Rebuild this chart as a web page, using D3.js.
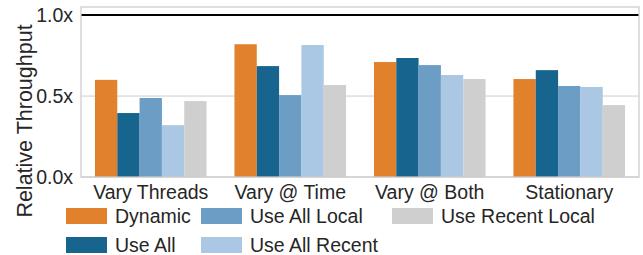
<!DOCTYPE html>
<html>
<head>
<meta charset="utf-8">
<script src="https://cdn.jsdelivr.net/npm/d3@7"></script>
<style>
  body { margin: 0; background: #fff; }
  text { font-family: "Liberation Sans", Arial, sans-serif; fill: #262626; }
</style>
</head>
<body>
<div id="chart"></div>
<script>
var categories = ['Vary Threads', 'Vary @ Time', 'Vary @ Both', 'Stationary'];
var seriesNames = ['Dynamic', 'Use All', 'Use All Local', 'Use All Recent', 'Use Recent Local'];
var dynamic = [0.60, 0.82, 0.71, 0.605];
var useAll = [0.395, 0.685, 0.735, 0.66];
var useAllLocal = [0.488, 0.506, 0.691, 0.562];
var useAllRecent = [0.32, 0.815, 0.63, 0.556];
var useRecentLocal = [0.469, 0.568, 0.605, 0.444];
var yTicks = [0, 0.5, 1.0];
var colors = ['#e1812c', '#17648f', '#6b9dc5', '#aac8e3', '#cfcfcf'];

var series = [dynamic, useAll, useAllLocal, useAllRecent, useRecentLocal];

var width = 643;
var height = 255;
var plotLeft = 81, plotRight = 639, plotTop = 7, plotBottom = 177;
var fontSize = '19.5px';

var svg = d3.select('#chart').append('svg')
  .attr('width', width)
  .attr('height', height);

var xScale = d3.scaleBand()
  .domain(categories)
  .range([plotLeft, plotRight])
  .paddingInner(0.2)
  .paddingOuter(0.1);

var xInner = d3.scaleBand()
  .domain(seriesNames)
  .range([0, xScale.bandwidth()]);

var yScale = d3.scaleLinear()
  .domain([0, 1.05])
  .range([plotBottom, plotTop]);

// grid
svg.append('g')
  .selectAll('line')
  .data(yTicks)
  .enter()
  .append('line')
  .attr('x1', plotLeft)
  .attr('x2', plotRight)
  .attr('y1', function(d) { return yScale(d); })
  .attr('y2', function(d) { return yScale(d); })
  .style('stroke', '#cccccc')
  .style('stroke-width', 1);

// bars
var groups = svg.selectAll('.grp')
  .data(categories)
  .enter()
  .append('g')
  .attr('class', 'grp')
  .attr('transform', function(d) { return 'translate(' + xScale(d) + ',0)'; });

groups.selectAll('rect')
  .data(function(d, i) {
    return series.map(function(s, j) { return { name: seriesNames[j], value: s[i], idx: j }; });
  })
  .enter()
  .append('rect')
  .attr('x', function(d) { return xInner(d.name); })
  .attr('y', function(d) { return yScale(d.value); })
  .attr('width', xInner.bandwidth())
  .attr('height', function(d) { return yScale(0) - yScale(d.value); })
  .style('fill', function(d) { return colors[d.idx]; });

// baseline 1.0x
svg.append('line')
  .attr('x1', plotLeft)
  .attr('x2', plotRight)
  .attr('y1', yScale(1))
  .attr('y2', yScale(1))
  .style('stroke', '#000')
  .style('stroke-width', 2);

// frame
svg.append('rect')
  .attr('x', plotLeft)
  .attr('y', plotTop)
  .attr('width', plotRight - plotLeft)
  .attr('height', plotBottom - plotTop)
  .style('fill', 'none')
  .style('stroke', '#cccccc')
  .style('stroke-width', 1.25);

// axes
var yAxis = d3.axisLeft(yScale)
  .tickValues(yTicks)
  .tickSize(0)
  .tickPadding(8)
  .tickFormat(function(d) { return d3.format('.1f')(d) + 'x'; });

svg.append('g')
  .attr('transform', 'translate(' + plotLeft + ',0)')
  .call(yAxis)
  .call(function(g) { g.select('.domain').remove(); })
  .selectAll('text')
  .style('font-size', fontSize)
  .style('font-family', '"Liberation Sans", Arial, sans-serif')
  .style('fill', '#262626');

var xAxis = d3.axisBottom(xScale).tickSize(0).tickPadding(8);

svg.append('g')
  .attr('transform', 'translate(0,' + plotBottom + ')')
  .call(xAxis)
  .call(function(g) { g.select('.domain').remove(); })
  .selectAll('text')
  .style('font-size', fontSize)
  .style('font-family', '"Liberation Sans", Arial, sans-serif')
  .style('fill', '#262626');

svg.append('text')
  .attr('transform', 'translate(32,121) rotate(-90)')
  .attr('text-anchor', 'middle')
  .style('font-size', '21.5px')
  .text('Relative Throughput');

// legend
var legendX = [66, 201, 392];
var legendY = [208, 237];
var legend = svg.append('g')
  .selectAll('g')
  .data(seriesNames)
  .enter()
  .append('g')
  .attr('transform', function(d, i) {
    return 'translate(' + legendX[Math.floor(i / 2)] + ',' + legendY[i % 2] + ')';
  });

legend.append('rect')
  .attr('width', 41)
  .attr('height', 16)
  .style('fill', function(d, i) { return colors[i]; });

legend.append('text')
  .attr('x', 49)
  .attr('y', 8)
  .attr('dy', '0.35em')
  .style('font-size', fontSize)
  .text(function(d) { return d; });
</script>
</body>
</html>
